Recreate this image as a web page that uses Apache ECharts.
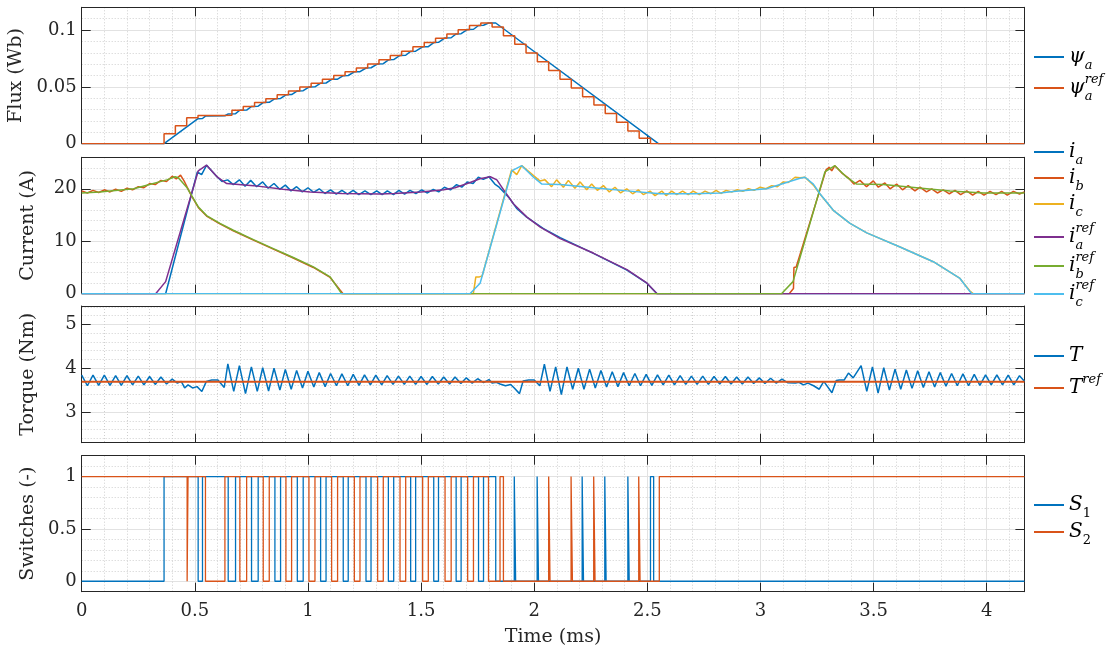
<!DOCTYPE html>
<html>
<head>
<meta charset="utf-8">
<script src="https://cdn.jsdelivr.net/npm/echarts@6/dist/echarts.min.js"></script>
<style>
  html, body { margin: 0; padding: 0; background: #fff; }
  #chart { width: 1113px; height: 653px; }
</style>
</head>
<body>
<div id="chart"></div>
<script>
// ---- time axis (ms) ----
const tEnd = 4.1667;
const timeTicks = [0, 0.5, 1, 1.5, 2, 2.5, 3, 3.5, 4];

// ---- flux (Wb) ----
const fluxTicks = [0, 0.05, 0.1];
const fluxA = [
  [0, 0], [0.364, 0], [0.514, 0.0220], [0.534, 0.0222], [0.547, 0.0243], [0.633, 0.0246],
  [0.648, 0.0262], [0.680, 0.0264], [0.699, 0.0294], [0.729, 0.0296], [0.751, 0.0328],
  [0.780, 0.0330], [0.802, 0.0362], [0.829, 0.0364], [0.854, 0.0396], [0.879, 0.0398],
  [0.903, 0.0430], [0.928, 0.0432], [0.953, 0.0464], [0.979, 0.0466], [1.004, 0.0498],
  [1.031, 0.0500], [1.056, 0.0532], [1.080, 0.0534], [1.105, 0.0566], [1.131, 0.0568],
  [1.156, 0.0598], [1.178, 0.0600], [1.205, 0.0632], [1.230, 0.0634], [1.257, 0.0666],
  [1.279, 0.0668], [1.308, 0.0702], [1.333, 0.0704], [1.356, 0.0738], [1.379, 0.0740],
  [1.407, 0.0776], [1.432, 0.0778], [1.454, 0.0812], [1.476, 0.0814], [1.507, 0.0852],
  [1.532, 0.0854], [1.556, 0.0890], [1.577, 0.0892], [1.606, 0.0930], [1.633, 0.0932],
  [1.655, 0.0966], [1.677, 0.0968], [1.706, 0.1005], [1.732, 0.1007], [1.754, 0.1040],
  [1.776, 0.1042], [1.798, 0.1062], [1.830, 0.1062], [2.549, 0], [tEnd, 0]
];
// sampled reference, each value held until the next sample
const fluxRef = [
  [0, 0], [0.364, 0.0088], [0.414, 0.0159], [0.464, 0.0229], [0.514, 0.0247], [0.564, 0.0247],
  [0.614, 0.0250], [0.664, 0.0294], [0.714, 0.0328], [0.764, 0.0362], [0.814, 0.0396],
  [0.864, 0.0430], [0.914, 0.0464], [0.964, 0.0498], [1.014, 0.0532], [1.064, 0.0566],
  [1.114, 0.0599], [1.164, 0.0632], [1.214, 0.0666], [1.264, 0.0702], [1.314, 0.0738],
  [1.364, 0.0776], [1.414, 0.0814], [1.464, 0.0852], [1.514, 0.0890], [1.564, 0.0928],
  [1.614, 0.0965], [1.664, 0.1002], [1.714, 0.1040], [1.764, 0.1061], [1.814, 0.1026],
  [1.864, 0.0949], [1.914, 0.0876], [1.964, 0.0797], [2.014, 0.0720], [2.064, 0.0644],
  [2.114, 0.0567], [2.164, 0.0491], [2.214, 0.0414], [2.264, 0.0341], [2.314, 0.0265],
  [2.364, 0.0188], [2.414, 0.0112], [2.464, 0.0047], [2.514, 0], [tEnd, 0]
];

// ---- phase currents (A) ----
const currentTicks = [0, 10, 20];
const ia = [
  [0, 0], [0.371, 0], [0.511, 23.2], [0.530, 22.7], [0.552, 24.5], [0.596, 22.4], [0.620, 21.4],
  [0.645, 21.7], [0.670, 20.8], [0.697, 21.7], [0.722, 20.5], [0.747, 21.6], [0.773, 20.4],
  [0.800, 21.3], [0.824, 20.1], [0.850, 21.0], [0.875, 19.9], [0.900, 20.7], [0.925, 19.6],
  [0.950, 20.4], [0.975, 19.4], [1.000, 20.2], [1.025, 19.3], [1.050, 20.0], [1.075, 19.1],
  [1.100, 19.8], [1.125, 19.0], [1.150, 19.7], [1.175, 19.0], [1.200, 19.7], [1.225, 18.9],
  [1.252, 19.6], [1.278, 18.9], [1.304, 19.6], [1.328, 18.9], [1.351, 19.6], [1.378, 18.9],
  [1.402, 19.7], [1.427, 19.0], [1.451, 19.7], [1.477, 19.1], [1.503, 19.8], [1.528, 19.2],
  [1.554, 19.9], [1.578, 19.4], [1.603, 20.3], [1.630, 19.8], [1.657, 20.8], [1.680, 20.3],
  [1.704, 21.3], [1.730, 21.0], [1.753, 22.2], [1.775, 21.8], [1.800, 22.3], [1.826, 20.9],
  [1.845, 20.3], [1.887, 18.4], [1.924, 16.2], [1.967, 14.6], [2.041, 12.4], [2.115, 10.7],
  [2.262, 7.7], [2.410, 4.5], [2.498, 2.0], [2.543, 0], [tEnd, 0]
];
const ib = [
  [0, 19.6], [0.025, 19.2], [0.05, 19.7], [0.075, 19.3], [0.1, 19.8], [0.125, 19.4], [0.15, 19.9],
  [0.175, 19.5], [0.2, 20.1], [0.225, 19.8], [0.25, 20.4], [0.275, 20.2], [0.3, 21.0], [0.325, 20.8],
  [0.35, 21.6], [0.375, 21.4], [0.40, 22.4], [0.418, 21.9], [0.437, 22.6], [0.455, 21.3],
  [0.465, 20.4], [0.486, 18.6], [0.516, 16.4], [0.552, 14.8], [0.611, 13.3], [0.67, 12.0],
  [0.759, 10.2], [0.847, 8.5], [0.935, 6.8], [1.024, 5.0], [1.098, 3.1], [1.140, 0.8], [1.155, 0],
  [3.127, 0], [3.146, 1.0], [3.148, 5.0], [3.158, 5.1], [3.290, 23.6], [3.304, 24.1], [3.315, 23.4],
  [3.329, 24.4], [3.360, 23.0], [3.388, 22.1], [3.413, 20.9], [3.440, 21.6], [3.469, 20.4],
  [3.499, 21.5], [3.521, 20.3], [3.550, 21.1], [3.573, 20.0], [3.602, 20.9], [3.628, 19.8],
  [3.653, 20.6], [3.683, 19.6], [3.705, 20.3], [3.734, 19.4], [3.757, 20.0], [3.782, 19.2],
  [3.808, 19.8], [3.835, 19.05], [3.860, 19.7], [3.885, 18.9], [3.912, 19.6], [3.938, 18.8],
  [3.963, 19.5], [3.988, 18.8], [4.015, 19.5], [4.041, 18.9], [4.066, 19.5], [4.091, 18.8],
  [4.118, 19.5], [4.145, 19.0], [tEnd, 19.4]
];
const ic = [
  [0, 0], [1.731, 0], [1.742, 3.2], [1.758, 3.2], [1.770, 3.4], [1.900, 23.6], [1.923, 22.7],
  [1.945, 24.4], [1.997, 22.5], [2.025, 21.5], [2.048, 21.7], [2.077, 20.4], [2.099, 21.7],
  [2.129, 20.3], [2.151, 21.6], [2.180, 20.1], [2.203, 21.3], [2.232, 19.8], [2.254, 20.9],
  [2.279, 19.7], [2.306, 20.6], [2.332, 19.4], [2.357, 20.3], [2.382, 19.2], [2.409, 20.0],
  [2.435, 19.05], [2.460, 19.8], [2.482, 18.9], [2.512, 19.56], [2.534, 18.7], [2.564, 19.56],
  [2.583, 18.7], [2.608, 19.56], [2.630, 18.9], [2.656, 19.56], [2.681, 18.9], [2.703, 19.56],
  [2.730, 18.9], [2.755, 19.56], [2.780, 19.05], [2.804, 19.7], [2.825, 19.1], [2.848, 19.7],
  [2.873, 19.4], [2.898, 19.8], [2.922, 19.5], [2.947, 20.0], [2.972, 19.7], [2.999, 20.3],
  [3.024, 20.0], [3.050, 20.6], [3.075, 20.4], [3.101, 21.3], [3.123, 21.2], [3.153, 22.2],
  [3.175, 22.1], [3.197, 22.2], [3.234, 20.7], [3.263, 19.0], [3.322, 15.9], [3.396, 13.4],
  [3.470, 11.6], [3.617, 8.9], [3.764, 6.1], [3.882, 2.9], [3.926, 0.5], [3.940, 0], [tEnd, 0]
];
const iaRef = [
  [0, 0], [0.327, 0], [0.371, 2.3], [0.515, 23.4], [0.552, 24.5], [0.600, 22.2], [0.641, 21.0],
  [0.760, 20.6], [0.890, 19.9], [1.010, 19.4], [1.150, 19.1], [1.320, 19.0], [1.380, 19.1],
  [1.500, 19.4], [1.600, 19.8], [1.650, 20.2], [1.717, 21.2], [1.760, 21.9], [1.806, 22.3],
  [1.835, 21.7], [1.865, 19.8], [1.909, 17.1], [1.968, 14.6], [2.027, 12.7], [2.115, 10.5],
  [2.263, 7.7], [2.410, 4.6], [2.499, 2.0], [2.543, 0], [tEnd, 0]
];
const ibRef = [
  [0, 19.2], [0.08, 19.4], [0.23, 20.0], [0.30, 20.8], [0.376, 21.7], [0.413, 22.3], [0.427, 22.1],
  [0.464, 20.3], [0.486, 18.7], [0.516, 16.5], [0.552, 14.9], [0.611, 13.4], [0.670, 12.1],
  [0.759, 10.3], [0.847, 8.6], [0.935, 6.9], [1.024, 5.1], [1.098, 3.2], [1.149, 0], [3.093, 0],
  [3.144, 2.3], [3.285, 23.2], [3.329, 24.4], [3.381, 22.2], [3.425, 20.9], [3.543, 20.8],
  [3.690, 20.2], [3.838, 19.56], [3.986, 19.2], [tEnd, 19.2]
];
const icRef = [
  [0, 0], [1.716, 0], [1.761, 2.0], [1.901, 23.4], [1.945, 24.4], [1.997, 22.2], [2.034, 20.9],
  [2.115, 20.8], [2.262, 20.2], [2.410, 19.6], [2.557, 19.05], [2.705, 19.05], [2.823, 19.2],
  [2.880, 19.5], [3.027, 20.0], [3.101, 21.0], [3.175, 22.0], [3.197, 22.2], [3.234, 20.9],
  [3.263, 19.05], [3.322, 15.9], [3.396, 13.4], [3.470, 11.6], [3.617, 8.9], [3.764, 6.1],
  [3.882, 2.9], [3.926, 0.4], [3.934, 0], [tEnd, 0]
];

// ---- torque (Nm) ----
const torqueTicks = [3, 4, 5];
const torqueMinorTicks = [2.4, 2.6, 2.8, 3.2, 3.4, 3.6, 3.8, 4.2, 4.4, 4.6, 4.8, 5.2, 5.4];
const torque = [
  [0, 3.84], [0.025, 3.60], [0.05, 3.84], [0.075, 3.61], [0.1, 3.84], [0.125, 3.61], [0.15, 3.83],
  [0.175, 3.61], [0.2, 3.83], [0.225, 3.62], [0.25, 3.82], [0.275, 3.62], [0.3, 3.81], [0.325, 3.63],
  [0.35, 3.80], [0.375, 3.64], [0.40, 3.75], [0.423, 3.66], [0.44, 3.70], [0.455, 3.55], [0.47, 3.62],
  [0.49, 3.55], [0.51, 3.58], [0.531, 3.47], [0.551, 3.70], [0.575, 3.73], [0.602, 3.73], [0.63, 3.56],
  [0.646, 4.10], [0.672, 3.47], [0.697, 4.06], [0.724, 3.42], [0.75, 4.03], [0.776, 3.47], [0.80, 4.01],
  [0.826, 3.48], [0.85, 4.00], [0.876, 3.50], [0.90, 3.97], [0.926, 3.52], [0.95, 3.95], [0.976, 3.55],
  [1.0, 3.93], [1.026, 3.57], [1.05, 3.90], [1.076, 3.58], [1.10, 3.88], [1.126, 3.60], [1.15, 3.87],
  [1.176, 3.60], [1.20, 3.86], [1.226, 3.61], [1.25, 3.85], [1.276, 3.62], [1.30, 3.84], [1.326, 3.62],
  [1.35, 3.83], [1.376, 3.63], [1.40, 3.82], [1.426, 3.63], [1.45, 3.82], [1.476, 3.63], [1.50, 3.81],
  [1.526, 3.63], [1.55, 3.81], [1.576, 3.64], [1.60, 3.80], [1.626, 3.64], [1.65, 3.80], [1.676, 3.65],
  [1.70, 3.78], [1.726, 3.66], [1.75, 3.76], [1.776, 3.67], [1.80, 3.74], [1.815, 3.66], [1.833, 3.68],
  [1.849, 3.64], [1.873, 3.60], [1.896, 3.63], [1.912, 3.55], [1.935, 3.42], [1.951, 3.71], [1.975, 3.73],
  [2.00, 3.73], [2.025, 3.60], [2.045, 4.09], [2.07, 3.47], [2.095, 4.03], [2.12, 3.40], [2.145, 4.03],
  [2.17, 3.52], [2.195, 4.00], [2.22, 3.52], [2.245, 3.98], [2.27, 3.55], [2.295, 3.95], [2.32, 3.57],
  [2.345, 3.92], [2.37, 3.58], [2.395, 3.90], [2.42, 3.60], [2.445, 3.88], [2.47, 3.60], [2.495, 3.86],
  [2.52, 3.61], [2.545, 3.85], [2.57, 3.62], [2.595, 3.84], [2.62, 3.62], [2.645, 3.83], [2.67, 3.63],
  [2.695, 3.82], [2.72, 3.63], [2.745, 3.82], [2.77, 3.63], [2.795, 3.81], [2.82, 3.64], [2.845, 3.81],
  [2.87, 3.64], [2.895, 3.80], [2.92, 3.64], [2.945, 3.80], [2.97, 3.65], [2.995, 3.78], [3.02, 3.65],
  [3.045, 3.77], [3.07, 3.66], [3.095, 3.75], [3.12, 3.67], [3.155, 3.66], [3.17, 3.68], [3.19, 3.62],
  [3.21, 3.66], [3.235, 3.60], [3.26, 3.52], [3.28, 3.70], [3.316, 3.44], [3.335, 3.72], [3.349, 3.73],
  [3.37, 3.73], [3.389, 3.89], [3.41, 3.78], [3.445, 4.06], [3.47, 3.47], [3.495, 4.03], [3.52, 3.43],
  [3.545, 4.01], [3.57, 3.50], [3.595, 3.98], [3.62, 3.52], [3.645, 3.96], [3.67, 3.54], [3.695, 3.94],
  [3.72, 3.56], [3.745, 3.92], [3.77, 3.57], [3.795, 3.90], [3.82, 3.59], [3.845, 3.88], [3.87, 3.60],
  [3.895, 3.87], [3.92, 3.60], [3.945, 3.86], [3.97, 3.61], [3.995, 3.85], [4.02, 3.62], [4.045, 3.85],
  [4.07, 3.62], [4.095, 3.84], [4.12, 3.62], [4.145, 3.83], [tEnd, 3.70]
];
const torqueRef = [[0, 3.69], [tEnd, 3.69]];

// ---- switch states: [switching instant, new state] ----
const switchTicks = [0, 0.5, 1];
const s1 = [
  [0, 0], [0.364, 1], [0.5147, 0], [0.5339, 1], [0.6475, 0], [0.680, 1], [0.7507, 0], [0.780, 1],
  [0.854, 0], [0.879, 1], [0.953, 0], [0.979, 1], [1.056, 0], [1.080, 1], [1.156, 0], [1.178, 1],
  [1.2566, 0], [1.2788, 1], [1.3555, 0], [1.379, 1], [1.454, 0], [1.476, 1], [1.556, 0], [1.577, 1],
  [1.655, 0], [1.677, 1], [1.754, 0], [1.776, 1], [1.830, 0], [1.912, 1], [1.918, 0], [2.013, 1],
  [2.019, 0], [2.212, 1], [2.218, 0], [2.312, 1], [2.318, 0], [2.414, 1], [2.420, 0], [2.514, 1],
  [2.528, 0], [tEnd, 0]
];
const s2 = [
  [0, 1], [0.466, 0], [0.470, 1], [0.547, 0], [0.633, 1], [0.699, 0], [0.729, 1], [0.8024, 0],
  [0.829, 1], [0.9027, 0], [0.9277, 1], [1.0044, 0], [1.031, 1], [1.1047, 0], [1.131, 1], [1.205, 0],
  [1.230, 1], [1.308, 0], [1.333, 1], [1.407, 0], [1.432, 1], [1.507, 0], [1.532, 1], [1.606, 0],
  [1.633, 1], [1.706, 0], [1.7316, 1], [1.798, 0], [1.849, 1], [1.864, 0], [2.064, 1], [2.070, 0],
  [2.163, 1], [2.169, 0], [2.263, 1], [2.269, 0], [2.462, 1], [2.468, 0], [2.553, 1], [tEnd, 1]
];

// ---- styling ----
const FONT = 'DejaVu Serif';
const AXIS = '#262626';
const MAJOR = '#e2e2e2';
const MINOR = '#cfcfcf';
const C = {
  blue: '#0072BD', orange: '#D95319', yellow: '#EDB120',
  purple: '#7E2F8E', green: '#77AC30', cyan: '#4DBEEE'
};

// panel rectangles (px)
const panels = [
  { top: 7.3,   height: 136.4, yName: 'Flux (Wb)',     min: 0,    max: 0.12, ticks: fluxTicks,    minor: { interval: 0.01 } },
  { top: 157.3, height: 136.4, yName: 'Current (A)',   min: 0,    max: 26,   ticks: currentTicks, minor: { interval: 2 } },
  { top: 306,   height: 136.7, yName: 'Torque (Nm)',   min: 2.3,  max: 5.42, ticks: torqueTicks,  minor: { custom: torqueMinorTicks } },
  { top: 455.7, height: 136,   yName: 'Switches (-)',  min: -0.1, max: 1.2,  ticks: switchTicks,  minor: { interval: 0.1 } }
];
const LEFT = 81.7, WIDTH = 942.7;

const grid = panels.map(p => ({
  left: LEFT, top: p.top, width: WIDTH, height: p.height,
  containLabel: false, outerBoundsMode: 'none'
}));

const xAxis = [], yAxis = [];
panels.forEach((p, g) => {
  const last = g === panels.length - 1;
  // dotted minor grid (x)
  xAxis.push({
    gridIndex: g, type: 'value', position: 'bottom', min: 0, max: tEnd, interval: 0.1,
    axisLine: { show: false }, axisTick: { show: false }, axisLabel: { show: false },
    splitLine: { show: true, lineStyle: { color: MINOR, type: [1, 2], width: 1 } }
  });
  // main time axis
  xAxis.push({
    gridIndex: g, type: 'value', position: 'bottom', min: 0, max: tEnd,
    axisLine: { show: true, onZero: false, lineStyle: { color: AXIS, width: 1 } },
    axisTick: { show: true, inside: true, length: 9, customValues: timeTicks, lineStyle: { color: AXIS } },
    axisLabel: { show: last, customValues: timeTicks, margin: 11, fontFamily: FONT, fontSize: 18, color: AXIS },
    splitLine: { show: true, lineStyle: { color: MAJOR, width: 1 } },
    name: last ? 'Time (ms)' : '', nameLocation: 'middle', nameGap: 36,
    nameTextStyle: { fontFamily: FONT, fontSize: 19, color: AXIS }
  });
  // box top edge with ticks
  xAxis.push({
    gridIndex: g, type: 'value', position: 'top', min: 0, max: tEnd,
    axisLine: { show: true, onZero: false, lineStyle: { color: AXIS, width: 1 } },
    axisTick: { show: true, inside: true, length: 9, customValues: timeTicks, lineStyle: { color: AXIS } },
    axisLabel: { show: false }, splitLine: { show: false }
  });

  const minorY = {
    gridIndex: g, type: 'value', position: 'left', min: p.min, max: p.max,
    axisLine: { show: false }, axisLabel: { show: false },
    splitLine: { show: true, lineStyle: { color: MINOR, type: [1, 2], width: 1 } }
  };
  if (p.minor.custom) {
    minorY.axisTick = { show: false, customValues: p.minor.custom };
  } else {
    minorY.interval = p.minor.interval;
    minorY.axisTick = { show: false };
  }
  yAxis.push(minorY);
  yAxis.push({
    gridIndex: g, type: 'value', position: 'left', min: p.min, max: p.max,
    axisLine: { show: true, onZero: false, lineStyle: { color: AXIS, width: 1 } },
    axisTick: { show: true, inside: true, length: 9, customValues: p.ticks, lineStyle: { color: AXIS } },
    axisLabel: { show: true, customValues: p.ticks, margin: 5, fontFamily: FONT, fontSize: 18, color: AXIS },
    splitLine: { show: true, lineStyle: { color: MAJOR, width: 1 } },
    name: p.yName, nameLocation: 'middle', nameGap: 44, nameRotate: 90,
    nameTextStyle: { fontFamily: FONT, fontSize: 19, color: AXIS }
  });
  yAxis.push({
    gridIndex: g, type: 'value', position: 'right', min: p.min, max: p.max,
    axisLine: { show: true, onZero: false, lineStyle: { color: AXIS, width: 1 } },
    axisTick: { show: true, inside: true, length: 9, customValues: p.ticks, lineStyle: { color: AXIS } },
    axisLabel: { show: false }, splitLine: { show: false }
  });
});

function line(name, data, color, g, opts) {
  opts = opts || {};
  return {
    name, type: 'line', data,
    xAxisIndex: 3 * g + 1, yAxisIndex: 3 * g + 1,
    step: opts.step || false,
    showSymbol: false, symbol: 'none', silent: true, z: 3,
    color, itemStyle: { color },
    lineStyle: { color, width: opts.width || 1.5 }
  };
}

const series = [
  line('psiA', fluxA, C.blue, 0),
  line('psiARef', fluxRef, C.orange, 0, { step: 'end' }),
  line('iA', ia, C.blue, 1),
  line('iB', ib, C.orange, 1),
  line('iC', ic, C.yellow, 1),
  line('iARef', iaRef, C.purple, 1),
  line('iBRef', ibRef, C.green, 1),
  line('iCRef', icRef, C.cyan, 1),
  line('T', torque, C.blue, 2),
  line('TRef', torqueRef, C.orange, 2, { width: 2 }),
  line('S1', s1, C.blue, 3, { step: 'end', width: 1.3 }),
  line('S2', s2, C.orange, 3, { step: 'end', width: 1.3 })
];

// legend labels (math-style rich text)
const legendLabels = {
  psiA:   '{m|ψ}{s|a}',
  psiARef:'{m|ψ}{sz|a}{p|ref}',
  iA:     '{m|i}{s|a}',
  iB:     '{m|i}{s|b}',
  iC:     '{m|i}{s|c}',
  iARef:  '{m|i}{sz|a}{p|ref}',
  iBRef:  '{m|i}{sz|b}{p|ref}',
  iCRef:  '{m|i}{sz|c}{p|ref}',
  T:      '{m|T}',
  TRef:   '{m|T}{p|ref}',
  S1:     '{m|S}{n|1}',
  S2:     '{m|S}{n|2}'
};
const legendCenters = {
  psiA: 62, psiARef: 88,
  iA: 157, iB: 183, iC: 209, iARef: 237, iBRef: 266, iCRef: 294,
  T: 361, TRef: 388,
  S1: 510, S2: 537
};
const rich = {
  m:  { fontFamily: FONT, fontStyle: 'italic', fontSize: 20, color: '#000', lineHeight: 30 },
  s:  { fontFamily: FONT, fontStyle: 'italic', fontSize: 13, color: '#000', lineHeight: 18, verticalAlign: 'bottom' },
  sz: { fontFamily: FONT, fontStyle: 'italic', fontSize: 13, color: '#000', lineHeight: 18, verticalAlign: 'bottom', width: 0 },
  p:  { fontFamily: FONT, fontStyle: 'italic', fontSize: 13, color: '#000', lineHeight: 14, verticalAlign: 'top' },
  n:  { fontFamily: FONT, fontSize: 13, color: '#000', lineHeight: 18, verticalAlign: 'bottom' }
};
const legend = Object.keys(legendLabels).map(name => ({
  data: [name], left: 1034, top: legendCenters[name] - 15,
  orient: 'vertical', padding: 0, itemGap: 0,
  icon: 'rect', itemWidth: 30, itemHeight: 2,
  selectedMode: false,
  formatter: n => legendLabels[n],
  textStyle: { rich, fontFamily: FONT, fontSize: 20, color: '#000' }
}));

const chart = echarts.init(document.getElementById('chart'), null, { renderer: 'canvas' });
chart.setOption({
  animation: false,
  backgroundColor: '#fff',
  grid, xAxis, yAxis, legend, series
});
</script>
</body>
</html>
